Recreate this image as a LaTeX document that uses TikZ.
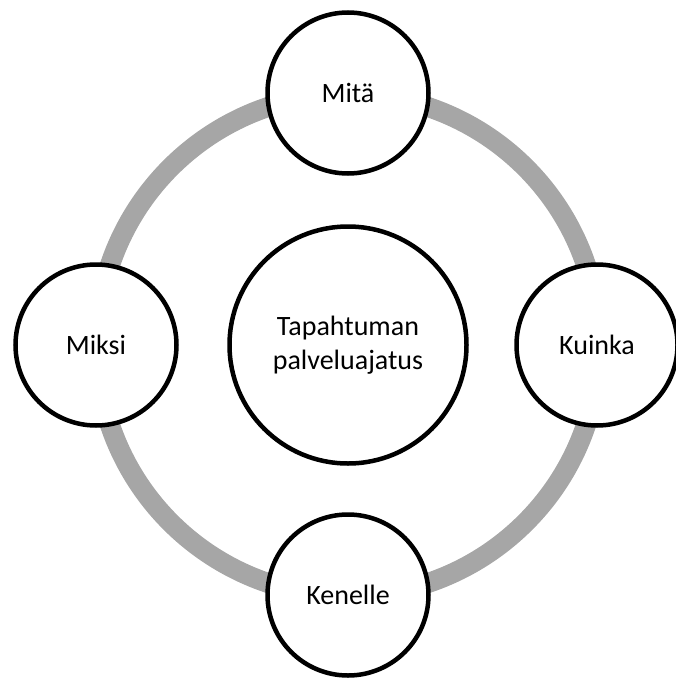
\documentclass[tikz,border=0pt]{standalone}
\usepackage{fontspec}
\setmainfont{Carlito}
\definecolor{ringgray}{HTML}{A6A6A6}
\begin{document}
\begin{tikzpicture}[x=1pt,y=-1pt,
  sat/.style={circle, draw=black, line width=4.5pt, fill=white,
    minimum size=161pt, inner sep=0pt, align=center,
    font=\fontsize{28}{34}\selectfont},
  hub/.style={sat, minimum size=237pt},
  ring/.style={line width=20pt, draw=ringgray}]
\useasboundingbox (0,0) rectangle (676,680);
\coordinate (c) at (348,345);
% grey cycle behind the satellites
\draw[ring] (c) circle[radius=251pt];
\node[hub] (hub) at (c) {Tapahtuman\\palveluajatus};
\node[sat] (top) at (348,93) {Mitä};
\node[sat] (right) at (597,345) {Kuinka};
\node[sat] (bottom) at (348,595) {Kenelle};
\node[sat] (left) at (96,345) {Miksi};
\end{tikzpicture}
\end{document}
